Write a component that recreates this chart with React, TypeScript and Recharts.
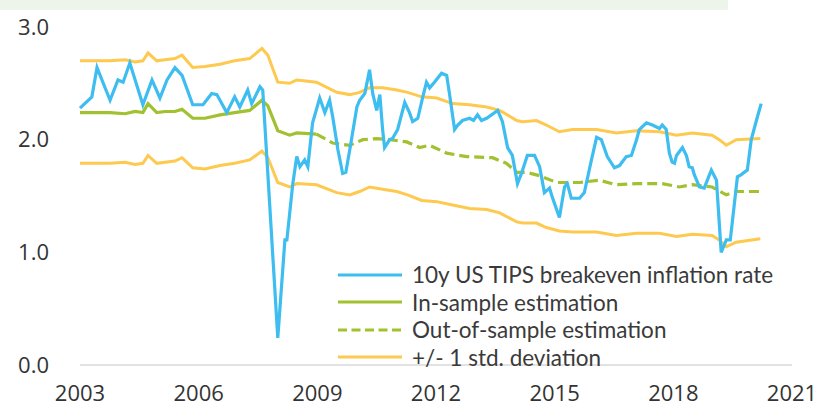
import React from 'react';
import { LineChart, Line, XAxis, YAxis } from 'recharts';

// x positions in years (fractional), values in %
const breakevenX = [
  2003.0, 2003.3, 2003.43, 2003.76, 2003.96, 2004.09, 2004.26, 2004.59, 2004.82, 2005.02,
  2005.2, 2005.4, 2005.58, 2005.85, 2006.11, 2006.33, 2006.46, 2006.71, 2006.91, 2007.04,
  2007.24, 2007.34, 2007.55, 2007.62, 2008.0, 2008.18, 2008.23, 2008.38, 2008.48, 2008.56,
  2008.68, 2008.76, 2008.88, 2009.06, 2009.19, 2009.31, 2009.39, 2009.52, 2009.64, 2009.72,
  2009.82, 2010.0, 2010.07, 2010.2, 2010.32, 2010.4, 2010.5, 2010.58, 2010.65, 2010.7,
  2010.83, 2010.9, 2011.03, 2011.21, 2011.33, 2011.41, 2011.54, 2011.66, 2011.76, 2011.84,
  2011.96, 2012.14, 2012.27, 2012.34, 2012.47, 2012.55, 2012.67, 2012.85, 2012.95, 2013.05,
  2013.15, 2013.28, 2013.56, 2013.68, 2013.81, 2013.93, 2014.06, 2014.16, 2014.31, 2014.49,
  2014.62, 2014.74, 2014.87, 2014.94, 2015.12, 2015.25, 2015.32, 2015.42, 2015.63, 2015.75,
  2015.93, 2016.06, 2016.18, 2016.33, 2016.51, 2016.64, 2016.81, 2016.94, 2017.07, 2017.14,
  2017.32, 2017.47, 2017.65, 2017.72, 2017.82, 2017.9, 2017.97, 2018.03, 2018.08, 2018.23,
  2018.33, 2018.4, 2018.48, 2018.53, 2018.66, 2018.78, 2018.96, 2019.09, 2019.21, 2019.34,
  2019.44, 2019.62, 2019.72, 2019.79, 2019.87, 2019.97, 2020.1, 2020.22,
];
const breakevenY = [
  2.28, 2.38, 2.64, 2.35, 2.53, 2.51, 2.68, 2.31, 2.53, 2.37,
  2.53, 2.64, 2.57, 2.31, 2.31, 2.41, 2.4, 2.24, 2.38, 2.29,
  2.44, 2.32, 2.47, 2.44, 0.24, 1.11, 1.11, 1.61, 1.85, 1.76,
  1.82, 1.76, 2.15, 2.37, 2.24, 2.35, 2.2, 1.91, 1.7, 1.71,
  1.91, 2.29, 2.35, 2.41, 2.62, 2.41, 2.26, 2.4, 2.09, 1.93,
  2.0, 2.01, 2.09, 2.33, 2.24, 2.16, 2.19, 2.37, 2.51, 2.46,
  2.51, 2.59, 2.57, 2.41, 2.09, 2.13, 2.17, 2.19, 2.17, 2.22,
  2.17, 2.19, 2.26, 2.16, 1.93, 1.86, 1.61, 1.7, 1.86, 1.86,
  1.76, 1.53, 1.57, 1.49, 1.31, 1.58, 1.61, 1.48, 1.48, 1.53,
  1.82, 2.02, 2.0, 1.85, 1.75, 1.77, 1.85, 1.86, 2.0, 2.09,
  2.15, 2.13, 2.1, 2.13, 2.09, 1.88, 1.8, 1.79, 1.86, 1.93,
  1.86, 1.76, 1.75, 1.69, 1.58, 1.57, 1.73, 1.64, 1.0, 1.11,
  1.11, 1.67, 1.69, 1.71, 1.73, 2.0, 2.17, 2.32,
];

const bandX = [
  2003.0, 2003.76, 2004.14, 2004.39, 2004.59, 2004.72, 2004.94, 2005.15, 2005.4, 2005.58,
  2005.85, 2006.16, 2006.54, 2006.91, 2007.29, 2007.6, 2007.75, 2008.0, 2008.3, 2008.48,
  2008.98, 2009.49, 2009.82, 2010.07, 2010.32, 2010.65, 2011.01, 2011.28, 2011.64, 2012.02,
  2012.42, 2012.85, 2013.28, 2013.61, 2014.04, 2014.19, 2014.54, 2014.79, 2015.12, 2015.45,
  2016.06, 2016.56, 2017.07, 2017.65, 2018.08, 2018.48, 2018.98, 2019.16, 2019.34, 2019.59,
  2020.2,
];
const upperY = [
  2.7, 2.7, 2.71, 2.69, 2.7, 2.77, 2.7, 2.71, 2.72, 2.75,
  2.64, 2.65, 2.67, 2.7, 2.72, 2.81, 2.75, 2.51, 2.5, 2.53,
  2.51, 2.42, 2.4, 2.42, 2.46, 2.46, 2.44, 2.42, 2.38, 2.37,
  2.32, 2.31, 2.29, 2.26, 2.17, 2.16, 2.17, 2.13, 2.07, 2.09,
  2.09, 2.06, 2.08, 2.07, 2.04, 2.06, 2.04, 2.0, 1.95, 2.0,
  2.01,
];
const lowerY = [
  1.79, 1.79, 1.8, 1.78, 1.79, 1.86, 1.79, 1.8, 1.81, 1.84,
  1.75, 1.74, 1.77, 1.79, 1.82, 1.9, 1.84, 1.62, 1.58, 1.61,
  1.6, 1.53, 1.51, 1.54, 1.58, 1.56, 1.54, 1.51, 1.46, 1.45,
  1.42, 1.39, 1.38, 1.35, 1.27, 1.26, 1.26, 1.22, 1.19, 1.18,
  1.18, 1.15, 1.17, 1.17, 1.14, 1.16, 1.15, 1.11, 1.05, 1.09,
  1.12,
];

const inSampleX = bandX.slice(0, 21);
const inSampleY = [
  2.24, 2.24, 2.23, 2.25, 2.24, 2.32, 2.24, 2.25, 2.25, 2.27,
  2.19, 2.19, 2.22, 2.24, 2.26, 2.35, 2.3, 2.08, 2.04, 2.06,
  2.05,
];

const outSampleX = [
  2008.98, 2009.39, 2009.82, 2010.15, 2010.5, 2010.83, 2011.26, 2011.59, 2011.84, 2012.27,
  2012.77, 2013.43, 2013.78, 2014.04, 2014.29, 2014.62, 2015.05, 2015.63, 2016.13, 2016.56,
  2017.07, 2017.72, 2018.15, 2018.48, 2018.98, 2019.34, 2019.59, 2020.2,
];
const outSampleY = [
  2.05, 1.97, 1.95, 2.0, 2.01, 2.0, 1.98, 1.93, 1.95, 1.88,
  1.85, 1.84, 1.79, 1.71, 1.71, 1.68, 1.62, 1.62, 1.64, 1.6,
  1.61, 1.61, 1.58, 1.6, 1.58, 1.51, 1.54, 1.54,
];

const xTicks = [2003, 2006, 2009, 2012, 2015, 2018, 2021];
const yTicks = [0, 1, 2, 3];

const BLUE = '#3dbdf0';
const GREEN = '#a2c131';
const ORANGE = '#fec94f';

const legendItems = [
  { label: '10y US TIPS breakeven inflation rate', color: BLUE, dash: false },
  { label: 'In-sample estimation', color: GREEN, dash: false },
  { label: 'Out-of-sample estimation', color: GREEN, dash: true },
  { label: '+/- 1 std. deviation', color: ORANGE, dash: false },
];

const toPoints = (xs: number[], ys: number[]) => xs.map((x, i) => ({ x, v: ys[i] }));

const breakeven = toPoints(breakevenX, breakevenY);
const upper = toPoints(bandX, upperY);
const lower = toPoints(bandX, lowerY);
const inSample = toPoints(inSampleX, inSampleY);
const outSample = toPoints(outSampleX, outSampleY);

const LegendBox = () => (
  <div
    style={{
      position: 'absolute',
      left: 338,
      top: 261,
      fontFamily: 'Lato, sans-serif',
      fontSize: 22.5,
      color: '#3a3a3a',
      lineHeight: '27.5px',
      pointerEvents: 'none',
    }}
  >
    {legendItems.map((it) => (
      <div key={it.label} style={{ display: 'flex', alignItems: 'center', whiteSpace: 'nowrap' }}>
        <svg width={64} height={6} style={{ marginRight: 10, flex: 'none' }}>
          <line
            x1={0}
            y1={3}
            x2={64}
            y2={3}
            stroke={it.color}
            strokeWidth={3}
            strokeDasharray={it.dash ? '9 4.5' : undefined}
          />
        </svg>
        <span>{it.label}</span>
      </div>
    ))}
  </div>
);

const App: React.FC = () => {
  const tickStyle = { fill: '#333', fontSize: 22, fontFamily: '"Open Sans", sans-serif' };
  return (
    <div style={{ position: 'absolute', left: 0, top: 0, width: 820, height: 409, background: '#fff' }}>
      <div style={{ position: 'absolute', left: 0, top: 0, width: 728, height: 10, background: '#edf4ea' }} />
      <LineChart width={820} height={409} margin={{ top: 27, right: 28, left: 0, bottom: 14 }}>
        <XAxis
          dataKey="x"
          type="number"
          domain={[2003, 2021]}
          ticks={xTicks}
          allowDuplicatedCategory={false}
          height={30}
          tickLine={false}
          tickSize={0}
          tickMargin={20}
          axisLine={{ stroke: '#d9d9d9', strokeWidth: 1.5 }}
          tick={tickStyle}
        />
        <YAxis
          type="number"
          domain={[0, 3]}
          ticks={yTicks}
          width={80}
          axisLine={false}
          tickLine={false}
          tickSize={0}
          tickMargin={31}
          tickFormatter={(v: number) => v.toFixed(1)}
          tick={tickStyle}
        />
        <Line data={upper} dataKey="v" type="linear" stroke={ORANGE} strokeWidth={3} dot={false} isAnimationActive={false} />
        <Line data={lower} dataKey="v" type="linear" stroke={ORANGE} strokeWidth={3} dot={false} isAnimationActive={false} />
        <Line data={outSample} dataKey="v" type="linear" stroke={GREEN} strokeWidth={3.2} strokeDasharray="10 5" dot={false} isAnimationActive={false} />
        <Line data={inSample} dataKey="v" type="linear" stroke={GREEN} strokeWidth={3.2} dot={false} isAnimationActive={false} />
        <Line data={breakeven} dataKey="v" type="linear" stroke={BLUE} strokeWidth={3.2} dot={false} isAnimationActive={false} />
      </LineChart>
      <LegendBox />
    </div>
  );
};

export default App;
